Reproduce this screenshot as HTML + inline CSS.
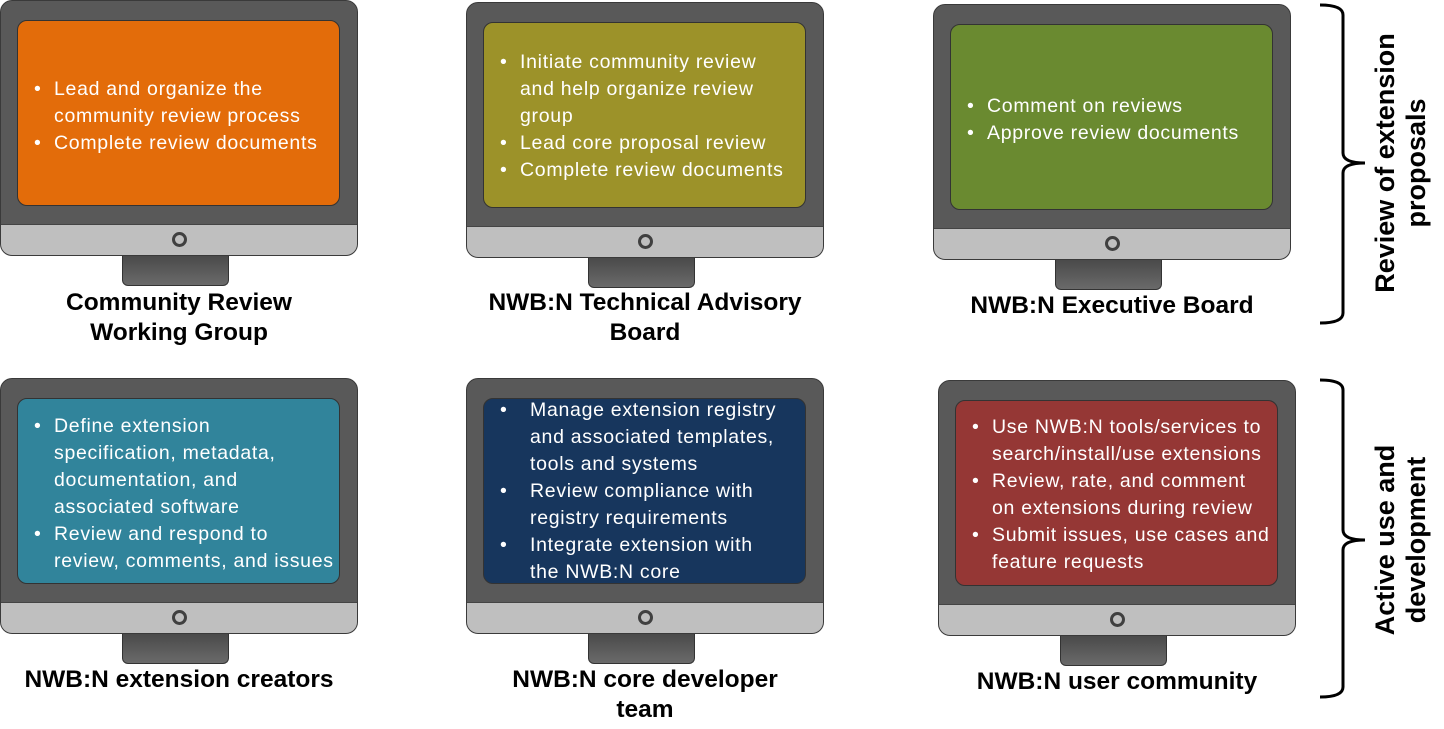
<!DOCTYPE html>
<html><head><meta charset="utf-8"><style>
body{margin:0;width:1444px;height:729px;background:#fff;position:relative;overflow:hidden;font-family:"Liberation Sans",Arial,sans-serif}
.m{position:absolute;width:358px;height:286px}
.fr{position:absolute;left:0;top:0;width:356px;height:254px;border:1px solid #3a3a3a;border-radius:12px;background:#595959;overflow:hidden}
.band{position:absolute;left:0;bottom:0;width:100%;height:30px;background:#bfbfbf;border-top:1px solid #444}
.btn{position:absolute;left:171px;bottom:8px;width:9px;height:9px;border:3.5px solid #404040;border-radius:50%;background:#bfbfbf}
.st{position:absolute;left:122px;top:256px;width:107px;height:30px;background:linear-gradient(#4a4a4a,#6a6a6a);border:1px solid #333;border-top:none;border-radius:0 0 6px 6px;box-sizing:border-box}
.sc{position:absolute;left:17px;top:20px;width:323px;height:186px;border:1px solid #333;border-radius:10px;color:#fff;font-size:19.5px;line-height:27px;box-sizing:border-box;letter-spacing:0.7px}
.sc ul{margin:0;padding:0;list-style:none;position:absolute;left:0;right:0}
.sc li{position:relative;padding-left:36px;white-space:nowrap}
.sc li:before{content:"•";position:absolute;left:16px}
.t{position:absolute;left:-20px;width:398px;text-align:center;font-weight:bold;font-size:24.5px;line-height:30px;color:#000}
.lab{position:absolute;font-weight:bold;font-size:27px;line-height:31px;text-align:center;transform:rotate(-90deg);width:320px}
</style></head><body>

<div class="m" style="left:0;top:0"><div class="fr"><div class="band"></div><div class="btn"></div></div><div class="st"></div>
<div class="sc" style="background:#e36c0a"><ul style="top:55px"><li>Lead and organize the<br>community review process</li><li>Complete review documents</li></ul></div>
<div class="t" style="top:288px">Community Review<br>Working Group</div></div>

<div class="m" style="left:466px;top:2px"><div class="fr"><div class="band"></div><div class="btn"></div></div><div class="st"></div>
<div class="sc" style="background:#9c9229"><ul style="top:26px"><li>Initiate community review<br>and help organize review<br>group</li><li>Lead core proposal review</li><li>Complete review documents</li></ul></div>
<div class="t" style="top:286px">NWB:N Technical Advisory<br>Board</div></div>

<div class="m" style="left:933px;top:4px"><div class="fr"><div class="band"></div><div class="btn"></div></div><div class="st"></div>
<div class="sc" style="background:#6a8a30"><ul style="top:68px"><li>Comment on reviews</li><li>Approve review documents</li></ul></div>
<div class="t" style="top:287px">NWB:N Executive Board</div></div>

<div class="m" style="left:0;top:378px"><div class="fr"><div class="band"></div><div class="btn"></div></div><div class="st"></div>
<div class="sc" style="background:#31849b"><ul style="top:14px"><li>Define extension<br>specification, metadata,<br>documentation, and<br>associated software</li><li>Review and respond to<br>review, comments, and issues</li></ul></div>
<div class="t" style="top:287px">NWB:N extension creators</div></div>

<div class="m" style="left:466px;top:378px"><div class="fr"><div class="band"></div><div class="btn"></div></div><div class="st"></div>
<div class="sc" style="background:#17365d"><ul style="top:-2px"><li style="padding-left:46px">Manage extension registry<br>and associated templates,<br>tools and systems</li><li style="padding-left:46px">Review compliance with<br>registry requirements</li><li style="padding-left:46px">Integrate extension with<br>the NWB:N core</li></ul></div>
<div class="t" style="top:287px">NWB:N core developer<br>team</div></div>

<div class="m" style="left:938px;top:380px"><div class="fr"><div class="band"></div><div class="btn"></div></div><div class="st"></div>
<div class="sc" style="background:#953735"><ul style="top:13px"><li>Use NWB:N tools/services to<br>search/install/use extensions</li><li>Review, rate, and comment<br>on extensions during review</li><li>Submit issues, use cases and<br>feature requests</li></ul></div>
<div class="t" style="top:287px">NWB:N user community</div></div>

<svg style="position:absolute;left:0;top:0" width="1444" height="729">
<path d="M1320 5 Q1343 5 1343 15 L1343 153 Q1343 163 1365 163 Q1343 163 1343 173 L1343 313 Q1343 323 1320 323" fill="none" stroke="#000" stroke-width="3"/>
<path d="M1320 380 Q1343 380 1343 390 L1343 530 Q1343 540 1365 540 Q1343 540 1343 550 L1343 687 Q1343 697 1320 697" fill="none" stroke="#000" stroke-width="3"/>
</svg>
<div class="lab" style="left:1241px;top:132px">Review of extension<br>proposals</div>
<div class="lab" style="left:1241px;top:509px">Active use and<br>development</div>
</body></html>
